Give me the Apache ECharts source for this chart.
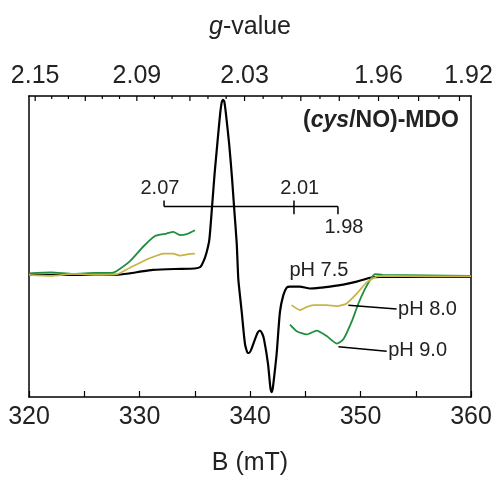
<!DOCTYPE html>
<html>
<head>
<meta charset="utf-8">
<script src="https://cdn.jsdelivr.net/npm/echarts/dist/echarts.min.js"></script>
<style>
  html, body { margin: 0; padding: 0; background: #fff; }
  #epr { width: 499px; height: 481px; }
</style>
</head>
<body>
<div id="epr"></div>
<script>
// field axis (mT) and signal, arbitrary units (0 = baseline)
var B_MIN = 320, B_MAX = 360;
var Y_MIN = -125, Y_MAX = 183;

// pH 7.5 (black)
var blackB = [320, 324, 327.9, 329.1, 330.2, 331.2, 333.2, 335.0, 335.5, 335.8, 336.05, 336.32, 336.54,
  336.8, 337.05, 337.3, 337.45, 337.56, 337.68, 337.83, 338.13, 338.38, 338.58, 338.8, 338.94,
  339.1, 339.25, 339.55, 339.8, 339.9, 340.09, 340.45, 340.7, 340.9, 341.1, 341.27, 341.63, 341.85, 341.96,
  342.06, 342.17, 342.41, 342.71, 343.01, 343.32, 343.62, 344.5, 345.43, 346.5, 347.24, 348.44, 349.66,
  350.86, 351.76, 355, 360];
var blackY = [0, 0, 0, 1.5, 3.5, 5, 6, 6.5, 8, 14, 22, 36, 66,
  104, 135, 165, 177, 179, 177, 164, 132, 98, 66, 32, -4,
  -22, -38, -71, -80, -80, -77, -66, -59, -57, -60, -66, -91, -116, -120,
  -116, -106, -81, -38, -21, -13, -12, -12, -14, -13, -12, -10, -7,
  -3, -2, -2, -2];

// pH 8.0 (gold) - two recorded windows, gap in between
var goldB = [320, 322, 324, 326, 327.9, 329.14, 330.65, 331.4, 332.15, 333.06, 333.66, 334.3, 334.87, 335.0,
  null,
  343.77, 344.53, 345.1, 345.73, 346.94, 347.85, 348.75, 349.66, 350.56, 351.47, 352.4, 356, 360];
var goldY = [0, -1, 1, 0, 0.5, 7.3, 15.7, 19, 21.7, 21.7, 19.7, 21, 21.7, 21,
  null,
  -31, -36, -33, -31, -31, -32, -29.3, -19.3, -7.7, -1.7, -1, -1.5, -1.5];

// pH 9.0 (green)
var greenB = [320, 322, 324, 326, 327.5, 327.94, 329.14, 330.35, 331.4, 332.46, 333.06, 333.66, 334.27, 335.02,
  null,
  343.62, 344.23, 345.13, 346.04, 346.94, 347.85, 348.45, 349.21, 349.81, 350.41, 351.02, 351.32, 352, 356, 360];
var greenY = [1.5, 2.5, 1, 2, 2, 4, 14, 29, 39.7, 42.3, 44, 40.7, 41.7, 45.7,
  null,
  -51, -57.7, -61, -57, -62.7, -70.3, -66, -47.7, -29.3, -14.3, -2.7, 0.7, 0, -0.5, -1];

// g-value scale on top: B = G_CONST / g
var G_CONST = 689.2;
var gTicks = [2.15, 2.14, 2.13, 2.12, 2.11, 2.10, 2.09, 2.08, 2.07, 2.06, 2.05, 2.04, 2.03, 2.02, 2.01,
  2.00, 1.99, 1.98, 1.97, 1.96, 1.95, 1.94, 1.93, 1.92];
var gMajor = [2.15, 2.12, 2.09, 2.06, 2.03, 2.00, 1.98, 1.96, 1.94, 1.92];
var gLabels = ['2.15', '2.09', '2.03', '1.96', '1.92'];

// inset g bar (positions in mT as drawn)
var insetText = ['2.07', '2.01', '1.98'];
var insetB = [332.22, 343.98, 347.96];
var insetLevel = 70;

var FONT = '"Liberation Sans", Arial, sans-serif';
var TXT = '#222';

function pairs(xs, ys) {
  return xs.map(function (x, i) { return x === null ? [null, null] : [x, ys[i]]; });
}

var gTickData = gTicks.map(function (g) {
  return [G_CONST / g, gMajor.indexOf(g) >= 0 ? 1 : 0];
});
var gLabelData = gLabels.map(function (s) { return [G_CONST / parseFloat(s), s]; });

// segments [x1, y1, x2, y2]
var segData = [
  [insetB[0], insetLevel, insetB[2], insetLevel],
  [insetB[0], insetLevel, insetB[0], insetLevel + 6],
  [insetB[1], insetLevel + 6, insetB[1], insetLevel - 8],
  [insetB[2], insetLevel, insetB[2], insetLevel - 8],
  [348.9, -31, 353.27, -35],
  [348.0, -73.7, 352.37, -78.3]
];
// texts [x, y, text, align]
var textData = [
  [331.85, 88.5, insetText[0], 'center'],
  [344.5, 88.5, insetText[1], 'center'],
  [348.5, 48.5, insetText[2], 'center'],
  [346.24, 4, 'pH 7.5', 'center'],
  [353.4, -35, 'pH 8.0', 'left'],
  [352.5, -77, 'pH 9.0', 'left']
];

var chart = echarts.init(document.getElementById('epr'));

var option = {
  animation: false,
  backgroundColor: '#fff',
  grid: { left: 29, right: 28, top: 96, bottom: 77, containLabel: false },
  xAxis: [{
    type: 'value', position: 'bottom', min: B_MIN, max: B_MAX, interval: 5,
    name: 'B (mT)', nameLocation: 'middle', nameGap: 54,
    nameTextStyle: { fontFamily: FONT, fontSize: 25, color: TXT },
    axisLine: { onZero: false, lineStyle: { color: '#000', width: 1.5 } },
    axisTick: { inside: true, length: 6, lineStyle: { color: '#000', width: 1.2 } },
    axisLabel: {
      margin: 8, fontFamily: FONT, fontSize: 25, color: TXT,
      formatter: function (v) { return v % 10 === 0 ? String(v) : ''; }
    },
    splitLine: { show: false }
  }, {
    type: 'value', position: 'top', min: B_MIN, max: B_MAX,
    name: '{i|g}-value', nameLocation: 'middle', nameGap: 56,
    nameTextStyle: {
      fontFamily: FONT, fontSize: 25, color: TXT,
      rich: { i: { fontFamily: FONT, fontSize: 25, color: TXT, fontStyle: 'italic' } }
    },
    axisLine: { onZero: false, lineStyle: { color: '#000', width: 1.5 } },
    axisTick: { show: false }, axisLabel: { show: false }, splitLine: { show: false }
  }],
  yAxis: [{
    type: 'value', position: 'left', min: Y_MIN, max: Y_MAX,
    axisLine: { show: true, onZero: false, lineStyle: { color: '#000', width: 1.5 } },
    axisTick: { show: false }, axisLabel: { show: false }, splitLine: { show: false }
  }, {
    type: 'value', position: 'right', min: Y_MIN, max: Y_MAX,
    axisLine: { show: true, onZero: false, lineStyle: { color: '#000', width: 1.5 } },
    axisTick: { show: false }, axisLabel: { show: false }, splitLine: { show: false }
  }],
  graphic: [{
    type: 'text', right: 40, top: 109,
    style: {
      text: '{b|(}{bi|cys}{b|/NO)-MDO}',
      rich: {
        b: { fontFamily: FONT, fontSize: 23, fontWeight: 'bold', fill: TXT },
        bi: { fontFamily: FONT, fontSize: 23, fontWeight: 'bold', fontStyle: 'italic', fill: TXT }
      }
    }
  }],
  series: [
    {
      name: 'pH 7.5', type: 'line', data: pairs(blackB, blackY), showSymbol: false, smooth: 0.2,
      lineStyle: { color: '#000', width: 2.2 }, z: 3
    },
    {
      name: 'pH 9.0', type: 'line', data: pairs(greenB, greenY), showSymbol: false, smooth: 0.2,
      connectNulls: false, lineStyle: { color: '#1f8e3f', width: 1.8 }, z: 4
    },
    {
      name: 'pH 8.0', type: 'line', data: pairs(goldB, goldY), showSymbol: false, smooth: 0.2,
      connectNulls: false, lineStyle: { color: '#c8b445', width: 1.8 }, z: 5
    },
    {
      type: 'custom', data: gTickData, z: 6,
      renderItem: function (params, api) {
        var p = api.coord([api.value(0), Y_MAX]);
        var len = api.value(1) ? 5 : 3;
        return { type: 'line', shape: { x1: p[0], y1: p[1], x2: p[0], y2: p[1] + len },
          style: { stroke: '#000', lineWidth: 1.2 } };
      }
    },
    {
      type: 'custom', data: gLabelData, z: 6,
      renderItem: function (params, api) {
        var p = api.coord([api.value(0), Y_MAX]);
        var s = gLabels[params.dataIndex];
        var dx = s === '1.92' ? 9 : 0;
        return { type: 'text', x: p[0] + dx, y: p[1] - 20,
          style: { text: s, font: '25px ' + FONT, fill: TXT, align: 'center', verticalAlign: 'middle' } };
      }
    },
    {
      type: 'custom', data: segData, z: 6,
      renderItem: function (params, api) {
        var a = api.coord([api.value(0), api.value(1)]);
        var b = api.coord([api.value(2), api.value(3)]);
        return { type: 'line', shape: { x1: a[0], y1: a[1], x2: b[0], y2: b[1] },
          style: { stroke: '#000', lineWidth: 1.5 } };
      }
    },
    {
      type: 'custom', data: textData, z: 7,
      renderItem: function (params, api) {
        var d = textData[params.dataIndex];
        var p = api.coord([d[0], d[1]]);
        return { type: 'text', x: p[0], y: p[1],
          style: { text: d[2], font: '20px ' + FONT, fill: TXT, align: d[3], verticalAlign: 'middle' } };
      }
    }
  ]
};

chart.setOption(option);
</script>
</body>
</html>
